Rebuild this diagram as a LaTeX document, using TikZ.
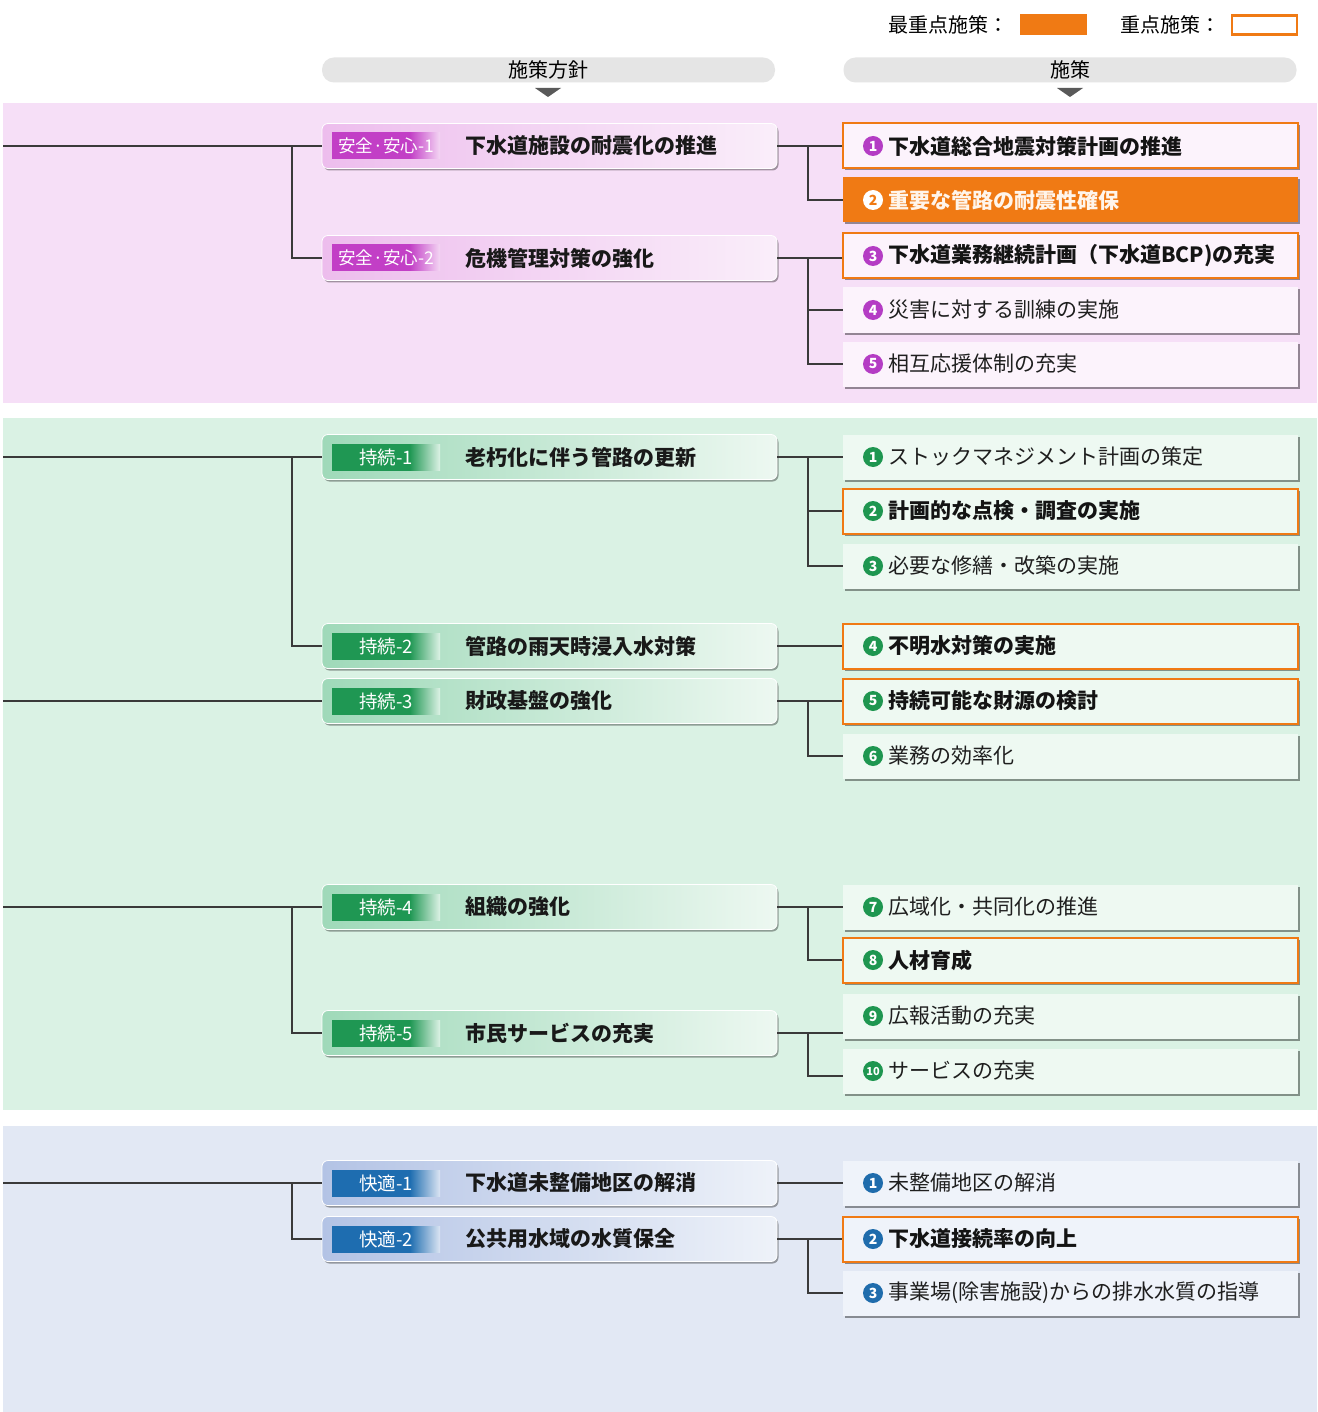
\documentclass[tikz,border=0pt]{standalone}
\usepackage{fontspec}
\setmainfont{Noto Sans CJK JP}
\usetikzlibrary{shadows}

\definecolor{bandP}{HTML}{F6DFF7}
\definecolor{bandG}{HTML}{DAF2E4}
\definecolor{bandB}{HTML}{E2E8F4}
\definecolor{orangeC}{HTML}{F07A14}
\definecolor{lineC}{HTML}{3A3A3A}
\definecolor{tagPD}{HTML}{C23FC6}
\definecolor{tagPL}{HTML}{F4D6F4}
\definecolor{tagGD}{HTML}{1F9753}
\definecolor{tagGL}{HTML}{DDF2E6}
\definecolor{tagBD}{HTML}{1E6DB0}
\definecolor{tagBL}{HTML}{DCE5F3}
\definecolor{polPL}{HTML}{EDBDED}
\definecolor{polPR}{HTML}{FAEEFA}
\definecolor{polGL}{HTML}{9FD9B9}
\definecolor{polGR}{HTML}{EDF8F1}
\definecolor{polBL}{HTML}{B3C3E5}
\definecolor{polBR}{HTML}{EEF2F9}
\definecolor{numP}{HTML}{B43CC4}
\definecolor{numG}{HTML}{1E9650}
\definecolor{numB}{HTML}{1F6CAC}
\definecolor{mfP}{HTML}{FCF3FC}
\definecolor{mfG}{HTML}{EEF9F2}
\definecolor{mfB}{HTML}{EFF3FA}

\pgfdeclarehorizontalshading{tagP}{100bp}{color(0bp)=(tagPD); color(25bp)=(tagPD); color(61bp)=(tagPD); color(75bp)=(tagPL); color(100bp)=(tagPL)}
\pgfdeclarehorizontalshading{tagG}{100bp}{color(0bp)=(tagGD); color(25bp)=(tagGD); color(61bp)=(tagGD); color(75bp)=(tagGL); color(100bp)=(tagGL)}
\pgfdeclarehorizontalshading{tagB}{100bp}{color(0bp)=(tagBD); color(25bp)=(tagBD); color(61bp)=(tagBD); color(75bp)=(tagBL); color(100bp)=(tagBL)}

\tikzset{
  conn/.style={draw=lineC, line width=1.1pt},
  pol/.style={rounded corners=6pt, minimum width=455pt, minimum height=45pt, inner sep=0pt,
    draw=white, line width=0.8pt,
    drop shadow={shadow xshift=1.5pt, shadow yshift=-2pt, fill=black, opacity=0.35}},
  tagbox/.style={minimum width=108pt, minimum height=26pt, inner sep=0pt, text=white},
  ptxt/.style={font=\fontsize{21}{21}\selectfont\bfseries, text=black!90, inner sep=0pt, anchor=west},
  mbox/.style={minimum width=455pt, minimum height=45pt, inner sep=0pt,
    drop shadow={shadow xshift=2pt, shadow yshift=-2pt, fill=black, opacity=0.4}},
  prio/.style={draw=orangeC, line width=2pt},
  topprio/.style={fill=orangeC},
  numc/.style={circle, minimum size=20pt, inner sep=0pt, text=white, font=\fontsize{14}{14}\selectfont\bfseries},
  mtxt/.style={font=\fontsize{21}{21}\selectfont, text=black!88, inner sep=0pt, anchor=west},
  mtxtb/.style={font=\fontsize{21}{21}\selectfont\bfseries, text=black!92, inner sep=0pt, anchor=west},
  mtxto/.style={font=\fontsize{21}{21}\selectfont\bfseries, text=white!92!orange, inner sep=0pt, anchor=west},
  hdr/.style={rounded corners=12pt, fill=black!10, minimum width=453pt, minimum height=25pt, inner sep=0pt,
    font=\fontsize{20}{20}\selectfont},
  tri/.style={fill=black!65},
  lgtxt/.style={font=\fontsize{20}{20}\selectfont, inner sep=0pt, anchor=west},
}

% name, y, left colour, right colour, tag shading, tag text, text
\newcommand\polbox[7]{%
  \node[pol, left color=#3, right color=#4] (#1) at (549.5,#2) {};
  \node[tagbox, shade, shading=#5] (#1tag) at (386,#2) {#6};
  \node[ptxt] (#1txt) at (465,#2) {#7};
}
% name, y, box style, circle style, number, text style, text
\newcommand\meas[7]{%
  \node[mbox,#3] (#1) at (1070.5,#2) {};
  \node[numc,#4] (#1n) at (873,#2) {#5};
  \node[#6] (#1t) at (888,#2) {#7};
}

\begin{document}
\begin{tikzpicture}[x=1pt,y=-1pt]
\useasboundingbox (0,0) rectangle (1317,1412);
\fill[white] (0,0) rectangle (1317,1412);

% bands
\fill[bandP] (3,103) rectangle (1317,403);
\fill[bandG] (3,418) rectangle (1317,1110);
\fill[bandB] (3,1126) rectangle (1317,1412);

% legend
\node[lgtxt] (lg1) at (888,25) {最重点施策：};
\node[minimum width=67pt, minimum height=21pt, inner sep=0pt, fill=orangeC] (lgb1) at (1053.5,25) {};
\node[lgtxt] (lg2) at (1120,25) {重点施策：};
\node[minimum width=65pt, minimum height=19pt, inner sep=0pt, draw=orangeC, line width=2.5pt, fill=white] (lgb2) at (1264.5,25) {};

% headers
\node[hdr] (h1) at (548.5,70) {施策方針};
\node[hdr] (h2) at (1070,70) {施策};
\fill[tri] (535,88) -- (561,88) -- (548,97) -- cycle;
\fill[tri] (1057,88) -- (1083,88) -- (1070,97) -- cycle;

% ---------- pink section ----------
\polbox{pA1}{146}{polPL}{polPR}{tagP}{\fontsize{17.5}{17.5}\selectfont 安全·安心-1}{下水道施設の耐震化の推進}
\polbox{pA2}{258}{polPL}{polPR}{tagP}{\fontsize{17.5}{17.5}\selectfont 安全·安心-2}{危機管理対策の強化}

\meas{mA1}{146}{prio, fill=mfP}{fill=numP}{1}{mtxtb}{下水道総合地震対策計画の推進}
\meas{mA2}{200}{topprio}{fill=white, text=orangeC}{2}{mtxto}{重要な管路の耐震性確保}
\meas{mA3}{256}{prio, fill=mfP}{fill=numP}{3}{mtxtb}{下水道業務継続計画（下水道BCP)の充実}
\meas{mA4}{310}{fill=mfP}{fill=numP}{4}{mtxt}{災害に対する訓練の実施}
\meas{mA5}{364}{fill=mfP}{fill=numP}{5}{mtxt}{相互応援体制の充実}

\coordinate (LA) at (3,146);
\coordinate (jA) at (292,146);
\draw[conn] (LA) -- (pA1.west);
\draw[conn] (jA) |- (pA2.west);
\coordinate (rA1) at (808,146);
\draw[conn] (pA1.east) -- (mA1.west);
\draw[conn] (rA1) |- (mA2.west);
\coordinate (rA2) at (808,258);
\draw[conn] (pA2.east) -- (pA2.east -| mA3.west);
\draw[conn] (rA2) |- (mA4.west);
\draw[conn] (rA2) |- (mA5.west);

% ---------- green section ----------
\polbox{pB1}{457}{polGL}{polGR}{tagG}{\fontsize{18.5}{18.5}\selectfont 持続-1}{老朽化に伴う管路の更新}
\polbox{pB2}{646}{polGL}{polGR}{tagG}{\fontsize{18.5}{18.5}\selectfont 持続-2}{管路の雨天時浸入水対策}
\polbox{pB3}{701}{polGL}{polGR}{tagG}{\fontsize{18.5}{18.5}\selectfont 持続-3}{財政基盤の強化}
\polbox{pB4}{907}{polGL}{polGR}{tagG}{\fontsize{18.5}{18.5}\selectfont 持続-4}{組織の強化}
\polbox{pB5}{1033}{polGL}{polGR}{tagG}{\fontsize{18.5}{18.5}\selectfont 持続-5}{市民サービスの充実}

\meas{mB1}{457}{fill=mfG}{fill=numG}{1}{mtxt}{ストックマネジメント計画の策定}
\meas{mB2}{511}{prio, fill=mfG}{fill=numG}{2}{mtxtb}{計画的な点検・調査の実施}
\meas{mB3}{566}{fill=mfG}{fill=numG}{3}{mtxt}{必要な修繕・改築の実施}
\meas{mB4}{646}{prio, fill=mfG}{fill=numG}{4}{mtxtb}{不明水対策の実施}
\meas{mB5}{701}{prio, fill=mfG}{fill=numG}{5}{mtxtb}{持続可能な財源の検討}
\meas{mB6}{756}{fill=mfG}{fill=numG}{6}{mtxt}{業務の効率化}
\meas{mB7}{907}{fill=mfG}{fill=numG}{7}{mtxt}{広域化・共同化の推進}
\meas{mB8}{960}{prio, fill=mfG}{fill=numG}{8}{mtxtb}{人材育成}
\meas{mB9}{1016}{fill=mfG}{fill=numG}{9}{mtxt}{広報活動の充実}
\meas{mB10}{1071}{fill=mfG}{fill=numG, font=\fontsize{11}{11}\selectfont\bfseries}{10}{mtxt}{サービスの充実}

\coordinate (LB1) at (3,457);
\coordinate (jB1) at (292,457);
\draw[conn] (LB1) -- (pB1.west);
\draw[conn] (jB1) |- (pB2.west);
\coordinate (LB3) at (3,701);
\draw[conn] (LB3) -- (pB3.west);
\coordinate (LB4) at (3,907);
\coordinate (jB4) at (292,907);
\draw[conn] (LB4) -- (pB4.west);
\draw[conn] (jB4) |- (pB5.west);

\coordinate (rB1) at (808,457);
\draw[conn] (pB1.east) -- (mB1.west);
\draw[conn] (rB1) |- (mB2.west);
\draw[conn] (rB1) |- (mB3.west);
\draw[conn] (pB2.east) -- (mB4.west);
\coordinate (rB3) at (808,701);
\draw[conn] (pB3.east) -- (mB5.west);
\draw[conn] (rB3) |- (mB6.west);
\coordinate (rB4) at (808,907);
\draw[conn] (pB4.east) -- (mB7.west);
\draw[conn] (rB4) |- (mB8.west);
\coordinate (rB5) at (808,1033);
\draw[conn] (pB5.east) -- (pB5.east -| mB9.west);
\draw[conn] (rB5) |- ([yshift=-5pt]mB10.west);

% ---------- blue section ----------
\polbox{pC1}{1183}{polBL}{polBR}{tagB}{\fontsize{18.5}{18.5}\selectfont 快適-1}{下水道未整備地区の解消}
\polbox{pC2}{1239}{polBL}{polBR}{tagB}{\fontsize{18.5}{18.5}\selectfont 快適-2}{公共用水域の水質保全}

\meas{mC1}{1183}{fill=mfB}{fill=numB}{1}{mtxt}{未整備地区の解消}
\meas{mC2}{1239}{prio, fill=mfB}{fill=numB}{2}{mtxtb}{下水道接続率の向上}
\meas{mC3}{1293}{fill=mfB}{fill=numB}{3}{mtxt}{事業場(除害施設)からの排水水質の指導}

\coordinate (LC) at (3,1183);
\coordinate (jC) at (292,1183);
\draw[conn] (LC) -- (pC1.west);
\draw[conn] (jC) |- (pC2.west);
\draw[conn] (pC1.east) -- (mC1.west);
\coordinate (rC2) at (808,1239);
\draw[conn] (pC2.east) -- (mC2.west);
\draw[conn] (rC2) |- (mC3.west);
\end{tikzpicture}
\end{document}
